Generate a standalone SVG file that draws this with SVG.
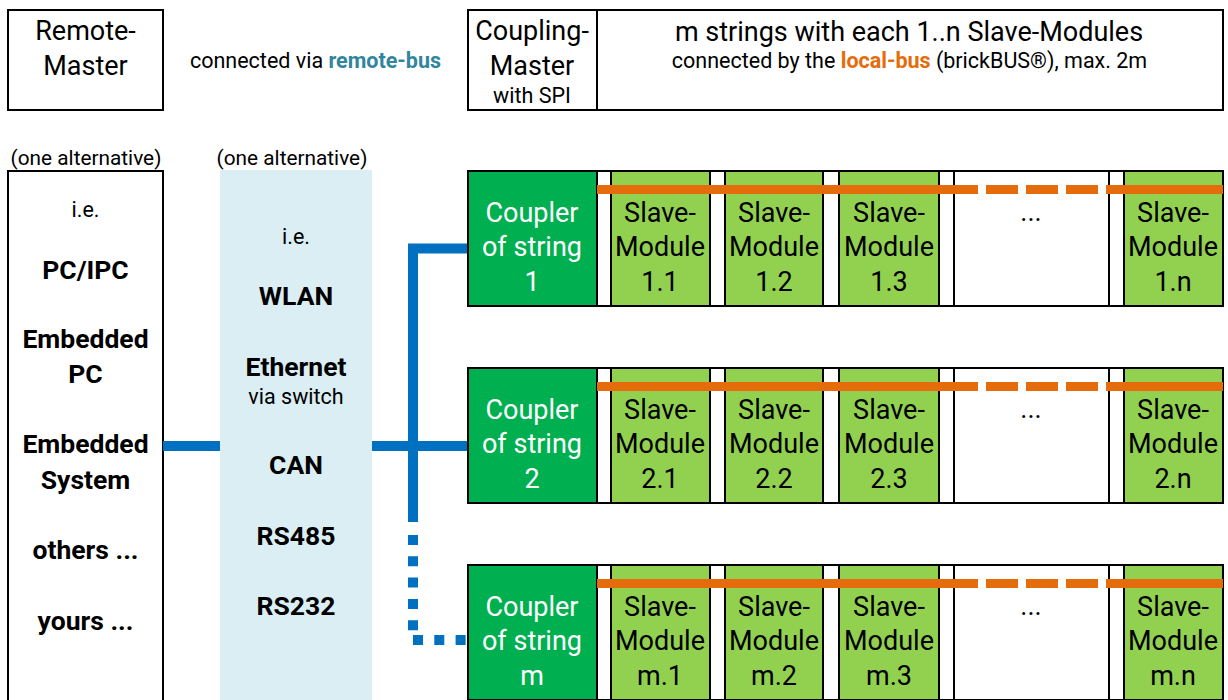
<svg xmlns="http://www.w3.org/2000/svg" width="1228" height="700" viewBox="0 0 1228 700">
<style>
text{font-family:Roboto,"Liberation Sans",sans-serif;fill:#000;text-anchor:middle}
.box{fill:#fff;stroke:#000;stroke-width:2}
.ln{stroke:#000;stroke-width:2;fill:none}
.cp{fill:#00b050}
.sm{fill:#92d050}
.t24{font-size:27px}
.t18{font-size:21.5px}
.t16{font-size:20.8px}
.b{font-weight:bold;font-size:26.5px}
.w{fill:#fff}
.bus{stroke:#e46c0a;stroke-width:9;fill:none}
.blue{stroke:#0070c0;stroke-width:10;fill:none}
.dot{stroke:#0070c0;stroke-width:10;fill:none;stroke-dasharray:10 11.3}
</style>
<defs>
<g id="row">
<rect x="468" y="0" width="755" height="135" class="box"/>
<rect x="469" y="1" width="127" height="133" class="cp"/>
<rect x="611" y="1" width="99" height="133" class="sm"/>
<rect x="725" y="1" width="98" height="133" class="sm"/>
<rect x="839" y="1" width="100" height="133" class="sm"/>
<rect x="1124" y="1" width="98" height="133" class="sm"/>
<path class="ln" d="M597 0V135M611 0V135M710 0V135M725 0V135M823 0V135M839 0V135M939 0V135M954 0V135M1109 0V135M1124 0V135"/>
<path class="bus" d="M597 18.5H978"/>
<path class="bus" d="M986 18.5H1098" stroke-dasharray="32 8"/>
<path class="bus" d="M1106 18.5H1223"/>
<text class="t24 w" x="532" y="51">Coupler</text>
<text class="t24 w" x="532" y="85">of string</text>
<text class="t24" x="660" y="51">Slave-</text>
<text class="t24" x="660" y="85">Module</text>
<text class="t24" x="774" y="51">Slave-</text>
<text class="t24" x="774" y="85">Module</text>
<text class="t24" x="889" y="51">Slave-</text>
<text class="t24" x="889" y="85">Module</text>
<text class="t24" x="1031" y="50">...</text>
<text class="t24" x="1173" y="51">Slave-</text>
<text class="t24" x="1173" y="85">Module</text>
</g>
</defs>
<g id="remote-master">
<rect class="box" x="8" y="10" width="155" height="100"/>
<text class="t24" x="85.5" y="40">Remote-</text>
<text class="t24" x="85.5" y="75">Master</text>
</g>
<g id="remote-bus-label">
<text class="t18" x="315.5" y="68">connected via <tspan font-weight="bold" fill="#31859c">remote-bus</tspan></text>
</g>
<g id="coupling-master">
<rect class="box" x="468" y="10" width="755" height="100"/>
<path class="ln" d="M597 10V110"/>
<text class="t24" x="532" y="40">Coupling-</text>
<text class="t24" x="532" y="75">Master</text>
<text class="t18" x="532" y="103">with SPI</text>
<text class="t24" x="909" y="40.5">m strings with each 1..n Slave-Modules</text>
<text class="t18" x="909.5" y="68">connected by the <tspan font-weight="bold" fill="#e46c0a">local-bus</tspan> (brickBUS®), max. 2m</text>
</g>
<g id="labels">
<text class="t16" x="86" y="165">(one alternative)</text>
<text class="t16" x="292" y="165">(one alternative)</text>
</g>
<g id="master-options">
<rect class="box" x="8" y="171" width="155" height="540"/>
<text class="t18" x="85.5" y="217">i.e.</text>
<text class="b" x="85.5" y="279">PC/IPC</text>
<text class="b" x="85.5" y="348">Embedded</text>
<text class="b" x="85.5" y="383">PC</text>
<text class="b" x="85.5" y="453">Embedded</text>
<text class="b" x="85.5" y="489">System</text>
<text class="b" x="85.5" y="559">others ...</text>
<text class="b" x="85.5" y="630">yours ...</text>
</g>
<g id="bus-options">
<rect x="220" y="170" width="152" height="530" fill="#daeef3"/>
<text class="t18" x="296" y="244">i.e.</text>
<text class="b" x="296" y="305">WLAN</text>
<text class="b" x="296" y="376">Ethernet</text>
<text class="t18" x="296" y="404">via switch</text>
<text class="b" x="296" y="474">CAN</text>
<text class="b" x="296" y="545">RS485</text>
<text class="b" x="296" y="615">RS232</text>
</g>
<g id="string-1" transform="translate(0,171)">
<use href="#row"/>
<text class="t24 w" x="532" y="120">1</text>
<text class="t24" x="660" y="120">1.1</text>
<text class="t24" x="774" y="120">1.2</text>
<text class="t24" x="889" y="120">1.3</text>
<text class="t24" x="1173" y="120">1.n</text>
</g>
<g id="string-2" transform="translate(0,368)">
<use href="#row"/>
<text class="t24 w" x="532" y="120">2</text>
<text class="t24" x="660" y="120">2.1</text>
<text class="t24" x="774" y="120">2.2</text>
<text class="t24" x="889" y="120">2.3</text>
<text class="t24" x="1173" y="120">2.n</text>
</g>
<g id="string-m" transform="translate(0,565)">
<use href="#row"/>
<text class="t24 w" x="532" y="120">m</text>
<text class="t24" x="660" y="120">m.1</text>
<text class="t24" x="774" y="120">m.2</text>
<text class="t24" x="889" y="120">m.3</text>
<text class="t24" x="1173" y="120">m.n</text>
</g>
<g id="connectors">
<path class="blue" d="M163 446H220"/>
<path class="blue" d="M372 446H467"/>
<path class="blue" d="M467 248.5H413V522"/>
<path class="dot" d="M413 535V631"/>
<path class="dot" d="M413 640H467" stroke-dasharray="10 11.5"/>
</g>
</svg>
